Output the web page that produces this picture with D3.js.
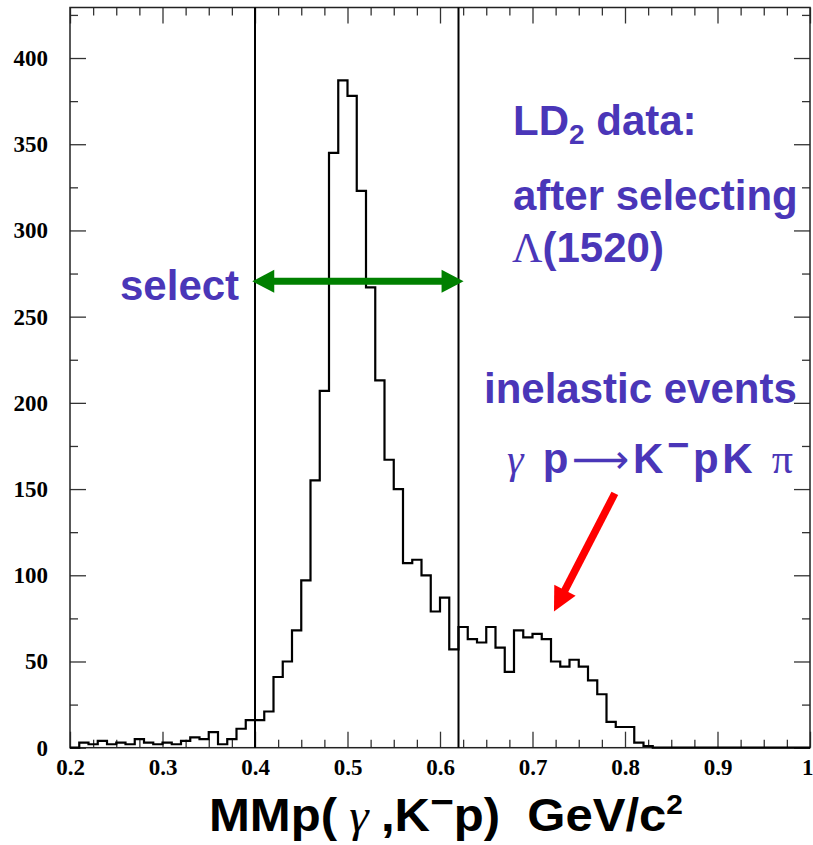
<!DOCTYPE html>
<html>
<head>
<meta charset="utf-8">
<script src="https://cdn.jsdelivr.net/npm/d3@7"></script>
<style>
  html, body { margin: 0; padding: 0; background: #fff; }
  svg { display: block; }
  text { white-space: pre; }
</style>
</head>
<body>
<svg id="chart" width="813" height="845"></svg>
<script>
// ---- data ----
const binLowEdges = [0.20,0.21,0.22,0.23,0.24,0.25,0.26,0.27,0.28,0.29,
  0.30,0.31,0.32,0.33,0.34,0.35,0.36,0.37,0.38,0.39,
  0.40,0.41,0.42,0.43,0.44,0.45,0.46,0.47,0.48,0.49,
  0.50,0.51,0.52,0.53,0.54,0.55,0.56,0.57,0.58,0.59,
  0.60,0.61,0.62,0.63,0.64,0.65,0.66,0.67,0.68,0.69,
  0.70,0.71,0.72,0.73,0.74,0.75,0.76,0.77,0.78,0.79,
  0.80,0.81,0.82,0.83];
const counts = [0,3,2,4,2,3,2,5,3,2,
  3,2,4,6,5,9,2,5,11,16,
  16,21,41,50,68,97,155,207,345,387,
  378,323,267,213,167,150,107,109,100,79,
  87,57,70,63,61,70,58,44,68,64,
  66,63,50,47,51,47,39,31,15,12,
  12,3,1,0];
const xMajorTicks = [0.2,0.3,0.4,0.5,0.6,0.7,0.8,0.9,1.0];
const xTickLabels = ["0.2","0.3","0.4","0.5","0.6","0.7","0.8","0.9","1"];
const xMinorTicks = [0.225,0.25,0.275,0.325,0.35,0.375,0.425,0.45,0.475,0.525,0.55,0.575,
  0.625,0.65,0.675,0.725,0.75,0.775,0.825,0.85,0.875,0.925,0.95,0.975];
const yMajorTicks = [0,50,100,150,200,250,300,350,400];
const yMinorTicks = [25,75,125,175,225,275,325,375,425];
const selectionCuts = [0.4, 0.62];
const xDomain = [0.2, 1.0];
const yDomain = [0, 429.3];

// ---- layout ----
const svg = d3.select("#chart");
const L = 70, R = 810, T = 7.5, B = 747.7;
const x = d3.scaleLinear().domain(xDomain).range([L, R]);
const y = d3.scaleLinear().domain(yDomain).range([B, T]);
const blue = "#4a36b8";
const sans = "'Liberation Sans', Arial, Helvetica, sans-serif";
const serif = "'Liberation Serif', 'Times New Roman', serif";

const tickColor = "#333";
function drawAxis(axis, tx, ty, cls) {
  const g = svg.append("g").attr("class", cls).attr("transform", `translate(${tx},${ty})`).call(axis);
  g.select(".domain").remove();
  g.selectAll("line").attr("stroke", tickColor).attr("stroke-width", 1.3);
  return g;
}
// bottom
drawAxis(d3.axisBottom(x).tickValues(xMinorTicks).tickSizeInner(-8).tickSizeOuter(0).tickFormat(""), 0, B, "xminor");
const xg = drawAxis(d3.axisBottom(x).tickValues(xMajorTicks).tickSizeInner(-16).tickSizeOuter(0)
  .tickPadding(11).tickFormat((d, i) => xTickLabels[i]), 0, B, "xmajor");
// top
drawAxis(d3.axisTop(x).tickValues(xMinorTicks).tickSizeInner(-8).tickSizeOuter(0).tickFormat(""), 0, T, "xminorTop");
drawAxis(d3.axisTop(x).tickValues(xMajorTicks).tickSizeInner(-16).tickSizeOuter(0).tickFormat(""), 0, T, "xmajorTop");
// left
drawAxis(d3.axisLeft(y).tickValues(yMinorTicks).tickSizeInner(-8).tickSizeOuter(0).tickFormat(""), L, 0, "yminor");
const yg = drawAxis(d3.axisLeft(y).tickValues(yMajorTicks).tickSizeInner(-16).tickSizeOuter(0)
  .tickPadding(22).tickFormat(d3.format("d")), L, 0, "ymajor");
// right
drawAxis(d3.axisRight(y).tickValues(yMinorTicks).tickSizeInner(-8).tickSizeOuter(0).tickFormat(""), R, 0, "yminorR");
drawAxis(d3.axisRight(y).tickValues(yMajorTicks).tickSizeInner(-16).tickSizeOuter(0).tickFormat(""), R, 0, "ymajorR");

[xg, yg].forEach(g => g.selectAll("text")
  .attr("font-family", serif).attr("font-weight", "bold").attr("font-size", 23).attr("fill", "#000"));
// keep the last x label ("1") inside the picture
xg.selectAll("text").filter(d => d === 1).attr("text-anchor", "end").attr("dx", 3);

// frame
svg.append("rect").attr("x", L).attr("y", T).attr("width", R - L).attr("height", B - T)
  .attr("fill", "none").attr("stroke", "#222").attr("stroke-width", 1.5);

// histogram
const pts = binLowEdges.map((e, i) => [e, counts[i]]);
pts.push([binLowEdges[binLowEdges.length - 1] + 0.01, 0]);
pts.push([xDomain[1], 0]);
const line = d3.line().x(d => x(d[0])).y(d => y(d[1])).curve(d3.curveStepAfter);
svg.append("path").datum(pts).attr("d", line)
  .attr("fill", "none").attr("stroke", "#000").attr("stroke-width", 2.2);

// selection cut lines
svg.selectAll(".cut").data(selectionCuts).enter().append("line")
  .attr("x1", d => x(d)).attr("x2", d => x(d)).attr("y1", T).attr("y2", B)
  .attr("stroke", "#000").attr("stroke-width", 2);

// arrow helper
function arrow(x1, y1, x2, y2, color, w, headLen, headW, doubleHead) {
  const g = svg.append("g");
  const dx = x2 - x1, dy = y2 - y1, len = Math.hypot(dx, dy);
  const ux = dx / len, uy = dy / len, px = -uy, py = ux;
  const s1 = doubleHead ? headLen * 0.9 : 0;
  g.append("line")
    .attr("x1", x1 + ux * s1).attr("y1", y1 + uy * s1)
    .attr("x2", x2 - ux * headLen * 0.9).attr("y2", y2 - uy * headLen * 0.9)
    .attr("stroke", color).attr("stroke-width", w);
  function head(tx, ty, dirx, diry) {
    const bx = tx - dirx * headLen, by = ty - diry * headLen;
    g.append("path")
      .attr("d", `M${tx},${ty}L${bx + px * headW / 2},${by + py * headW / 2}L${bx - px * headW / 2},${by - py * headW / 2}Z`)
      .attr("fill", color);
  }
  head(x2, y2, ux, uy);
  if (doubleHead) head(x1, y1, -ux, -uy);
}
// green selection arrow
arrow(x(0.397), y(270.5), x(0.6255), y(270.5), "#008000", 7, 22, 23, true);
// red arrow
arrow(x(0.789), y(147.5), x(0.7232), y(79), "#ff0000", 7.5, 24, 24, false);

// annotations
function txt(xp, yp, size) {
  return svg.append("text").attr("x", xp).attr("y", yp)
    .attr("font-family", sans).attr("font-weight", "bold").attr("font-size", size).attr("fill", blue);
}
const t1 = txt(513, 135, 42);
t1.append("tspan").text("LD");
t1.append("tspan").attr("font-size", 28).attr("dy", 9).text("2");
t1.append("tspan").attr("dy", -9).text(" data:");

txt(513, 210, 42).text("after selecting");
const t3 = txt(512, 262, 42);
t3.append("tspan").attr("font-family", serif).attr("font-weight", "normal").text("Λ");
t3.append("tspan").text("(1520)");

txt(120, 300, 42).text("select");
txt(484, 403, 42).text("inelastic events");

const t5 = txt(507, 473, 42).attr("textLength", 286).attr("lengthAdjust", "spacing");
t5.append("tspan").attr("font-family", serif).attr("font-weight", "normal").attr("font-style", "italic").text("γ");
t5.append("tspan").text(" p");
t5.append("tspan").attr("font-family", "'DejaVu Sans', sans-serif").attr("font-weight", "normal").attr("font-size", 40).text("⟶");
t5.append("tspan").text("K");
t5.append("tspan").attr("dy", -15).attr("font-size", 38).text("−");
t5.append("tspan").attr("dy", 15).text("pK ");
t5.append("tspan").attr("font-family", serif).attr("font-weight", "normal").text("π");

// x-axis title
const tt = svg.append("text").attr("x", 209).attr("y", 831)
  .attr("font-family", sans).attr("font-weight", "bold").attr("font-size", 46).attr("fill", "#000")
  .attr("textLength", 474).attr("lengthAdjust", "spacingAndGlyphs");
tt.append("tspan").text("MMp(");
tt.append("tspan").attr("font-family", serif).attr("font-weight", "normal").attr("font-style", "italic").text(" γ ");
tt.append("tspan").text(",K");
tt.append("tspan").attr("dy", -16).attr("font-size", 38).text("−");
tt.append("tspan").attr("dy", 16).text("p)  GeV/c");
tt.append("tspan").attr("dy", -17).attr("font-size", 28).text("2");
</script>
</body>
</html>
